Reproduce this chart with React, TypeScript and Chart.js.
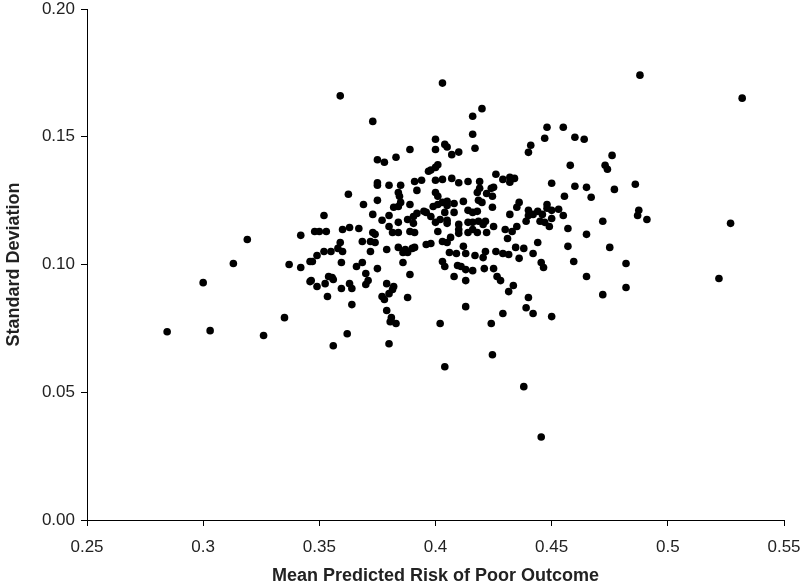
import React, { useEffect, useRef } from "react";
import { Chart, registerables } from "chart.js";

Chart.register(...registerables);

const xTickValues = [0.25, 0.3, 0.35, 0.4, 0.45, 0.5, 0.55];
const yTickValues = [0, 0.05, 0.1, 0.15, 0.2];
const xTitle = "Mean Predicted Risk of Poor Outcome";
const yTitle = "Standard Deviation";

const meanRisk = [
  0.359, 0.403, 0.373, 0.4, 0.4, 0.404, 0.405, 0.389, 0.383, 0.375, 0.378, 0.407, 0.41,
  0.401, 0.4, 0.397, 0.398, 0.375, 0.375, 0.38, 0.385, 0.391, 0.394, 0.4, 0.403, 0.407, 0.41, 0.414,
  0.42, 0.416, 0.416, 0.417, 0.448, 0.455, 0.447, 0.46, 0.464, 0.441, 0.44, 0.476, 0.458, 0.473, 0.474,
  0.426, 0.429, 0.432, 0.434, 0.432, 0.419, 0.45, 0.46, 0.465, 0.425, 0.424, 0.419, 0.477,
  0.488, 0.532, 0.486,
  0.319, 0.313, 0.3, 0.342, 0.337, 0.342, 0.346, 0.346, 0.335,
  0.3625, 0.384, 0.3845, 0.392, 0.4, 0.401, 0.369, 0.375, 0.385, 0.382, 0.384, 0.389,
  0.352, 0.373, 0.377, 0.38, 0.384, 0.388, 0.3905, 0.392, 0.395, 0.396, 0.399, 0.401, 0.403, 0.405,
  0.405, 0.408, 0.412, 0.414, 0.408, 0.404, 0.402, 0.398, 0.3905, 0.4, 0.405, 0.405, 0.41, 0.414,
  0.348, 0.35, 0.353, 0.36, 0.363, 0.367, 0.373, 0.374, 0.372, 0.374, 0.3685, 0.38, 0.3815, 0.384,
  0.389, 0.391, 0.401, 0.41, 0.41, 0.414, 0.359, 0.358, 0.355, 0.352, 0.349, 0.36, 0.372, 0.379,
  0.384, 0.387, 0.388, 0.386, 0.391, 0.39, 0.396, 0.398, 0.403, 0.4065, 0.405, 0.406, 0.409, 0.412,
  0.413, 0.347, 0.3595, 0.366, 0.3685, 0.375, 0.386, 0.403, 0.404, 0.4095, 0.411, 0.413, 0.389,
  0.37, 0.3555, 0.354, 0.356, 0.3465, 0.3525, 0.349, 0.3595, 0.363, 0.364, 0.37, 0.371, 0.408, 0.413,
  0.379, 0.382, 0.3815, 0.38, 0.3535, 0.377, 0.378, 0.388, 0.364, 0.379, 0.413, 0.381,
  0.4555, 0.467, 0.418, 0.422, 0.4245, 0.4185, 0.42, 0.4245, 0.416, 0.418, 0.436, 0.435, 0.432,
  0.44, 0.44, 0.444, 0.446, 0.448, 0.448, 0.45, 0.453, 0.455, 0.439, 0.445, 0.447, 0.449, 0.45,
  0.442, 0.472, 0.457, 0.465, 0.416, 0.4185, 0.4215, 0.4205, 0.416, 0.418, 0.422, 0.425, 0.43,
  0.433, 0.435, 0.431, 0.444, 0.457, 0.475, 0.4345, 0.438, 0.436, 0.442, 0.426, 0.429, 0.4315,
  0.4215, 0.4205, 0.417, 0.4455, 0.4465, 0.4595, 0.482, 0.421, 0.425, 0.416, 0.4265, 0.428, 0.465,
  0.4335, 0.4315, 0.482, 0.472, 0.44, 0.439, 0.442, 0.429, 0.45,
  0.4875, 0.487, 0.491, 0.527, 0.522,
  0.2845, 0.303, 0.326, 0.3805, 0.383, 0.402, 0.362, 0.356, 0.38, 0.404, 0.424, 0.4245, 0.438, 0.4455,
];

const stdDev = [
  0.166, 0.171, 0.156, 0.149, 0.145, 0.147, 0.146, 0.145, 0.142, 0.141, 0.14, 0.143, 0.144,
  0.139, 0.138, 0.1365, 0.137, 0.132, 0.131, 0.131, 0.131, 0.1325, 0.133, 0.133, 0.1333, 0.1337, 0.132, 0.1325,
  0.161, 0.158, 0.151, 0.1455, 0.1537, 0.1537, 0.1494, 0.1498, 0.149, 0.1467, 0.1439, 0.1427, 0.1388, 0.1388, 0.1373,
  0.1353, 0.1333, 0.1341, 0.1337, 0.1322, 0.1325, 0.1318, 0.1306, 0.1302, 0.1302, 0.1298, 0.1298, 0.1294,
  0.1741, 0.1651, 0.1314,
  0.1098, 0.1004, 0.0929, 0.1114, 0.1, 0.0988, 0.1012, 0.0933, 0.0792,
  0.1275, 0.1282, 0.1267, 0.129, 0.1282, 0.1267, 0.1235, 0.1251, 0.1243, 0.1224, 0.1227, 0.1235,
  0.1192, 0.1196, 0.1173, 0.1192, 0.1165, 0.1176, 0.1188, 0.12, 0.1208, 0.1204, 0.1227, 0.1235, 0.1243, 0.1247,
  0.1231, 0.1239, 0.1247, 0.1212, 0.1204, 0.1204, 0.1176, 0.1188, 0.1161, 0.1165, 0.1173, 0.1161, 0.1157, 0.1165,
  0.1129, 0.1129, 0.1129, 0.1137, 0.1145, 0.1141, 0.1125, 0.1118, 0.109, 0.1086, 0.109, 0.1149, 0.1125, 0.1125,
  0.1129, 0.1125, 0.1129, 0.1137, 0.1122, 0.1125, 0.1086, 0.1063, 0.1051, 0.1051, 0.1035, 0.1051, 0.1051, 0.1059,
  0.1067, 0.1059, 0.1047, 0.1047, 0.1067, 0.1063, 0.1078, 0.1082, 0.109, 0.1106, 0.1086, 0.1047, 0.1043, 0.1071,
  0.1043, 0.1012, 0.1008, 0.0992, 0.1008, 0.0984, 0.1008, 0.1012, 0.0992, 0.0996, 0.0992, 0.098, 0.0961,
  0.0965, 0.0949, 0.0953, 0.0941, 0.0937, 0.0925, 0.0914, 0.0906, 0.0925, 0.0906, 0.0922, 0.0937, 0.0953, 0.0937,
  0.0925, 0.0914, 0.0902, 0.0886, 0.0875, 0.0875, 0.0863, 0.0871, 0.0843, 0.082, 0.0835, 0.0792,
  0.1267, 0.1263, 0.1282, 0.1278, 0.1267, 0.1251, 0.1243, 0.1224, 0.1204, 0.1208, 0.1243, 0.1224, 0.1196,
  0.1212, 0.1192, 0.1208, 0.1196, 0.1235, 0.122, 0.1212, 0.1216, 0.1192, 0.1169, 0.1169, 0.1165, 0.1149, 0.118,
  0.1196, 0.1169, 0.1141, 0.1118, 0.1165, 0.1169, 0.1169, 0.1157, 0.1137, 0.1125, 0.1125, 0.1149, 0.1137,
  0.1129, 0.1149, 0.1102, 0.1086, 0.1071, 0.1067, 0.1067, 0.1063, 0.1024, 0.1043, 0.1051, 0.1043, 0.1039,
  0.1051, 0.1027, 0.1035, 0.1008, 0.0988, 0.1012, 0.1004, 0.0984, 0.0984, 0.0976, 0.0953, 0.0937, 0.0953,
  0.0918, 0.0894, 0.091, 0.0882, 0.0871, 0.0831, 0.0808, 0.0808, 0.0796,
  0.1212, 0.1192, 0.1176, 0.1161, 0.0945,
  0.0737, 0.0741, 0.0722, 0.0776, 0.0769, 0.0769, 0.0729, 0.0682, 0.069, 0.06, 0.0769, 0.0647, 0.0522, 0.0325,
];

const FONT = "'Liberation Sans', Arial, sans-serif";

export default function App() {
  const canvasRef = useRef<HTMLCanvasElement | null>(null);

  useEffect(() => {
    const canvas = canvasRef.current;
    if (!canvas) return;
    const n = Math.min(meanRisk.length, stdDev.length);
    const points = [];
    for (let i = 0; i < n; i++) points.push({ x: meanRisk[i], y: stdDev[i] });

    const chart = new Chart(canvas, {
      type: "scatter",
      data: {
        datasets: [
          {
            data: points,
            backgroundColor: "#000",
            borderColor: "#000",
            pointRadius: 3.8,
            pointBorderWidth: 0,
          },
        ],
      },
      options: {
        responsive: false,
        animation: false,
        devicePixelRatio: 1,
        layout: { padding: { left: 0, right: 0, top: 0, bottom: 0 } },
        plugins: { legend: { display: false }, tooltip: { enabled: false } },
        scales: {
          x: {
            type: "linear",
            min: 0.25,
            max: 0.55,
            afterBuildTicks: (scale: any) => {
              scale.ticks = xTickValues.map((v) => ({ value: v }));
            },
            afterFit: (scale: any) => {
              scale.height = 65;
              scale.paddingRight = 16;
              scale.paddingLeft = 0;
            },
            ticks: {
              color: "#222",
              font: { family: FONT, size: 17 },
              padding: 11,
              maxRotation: 0,
              callback: (v: any) => String(Number(Number(v).toFixed(2))),
            },
            grid: { drawOnChartArea: false, drawTicks: true, tickLength: 6, color: "#000" },
            border: { color: "#000", width: 1 },
            title: {
              display: true,
              text: xTitle,
              color: "#222",
              font: { family: FONT, size: 18, weight: "bold" },
              padding: { top: 0, bottom: -2 },
            },
          },
          y: {
            type: "linear",
            min: 0,
            max: 0.2,
            afterBuildTicks: (scale: any) => {
              scale.ticks = yTickValues.map((v) => ({ value: v }));
            },
            afterFit: (scale: any) => {
              scale.width = 87;
              scale.paddingTop = 9;
              scale.paddingBottom = 0;
            },
            ticks: {
              color: "#222",
              font: { family: FONT, size: 17 },
              padding: 6,
              callback: (v: any) => Number(v).toFixed(2),
            },
            grid: { drawOnChartArea: false, drawTicks: true, tickLength: 6, color: "#000" },
            border: { color: "#000", width: 1 },
            title: {
              display: true,
              text: yTitle,
              color: "#222",
              font: { family: FONT, size: 18, weight: "bold" },
              padding: { top: 3, bottom: 0 },
            },
          },
        },
      },
    });
    return () => chart.destroy();
  }, []);

  return (
    <div style={{ position: "fixed", left: 0, top: 0, width: 800, height: 585, background: "#fff" }}>
      <canvas ref={canvasRef} width={800} height={585} style={{ width: 800, height: 585 }} />
    </div>
  );
}
